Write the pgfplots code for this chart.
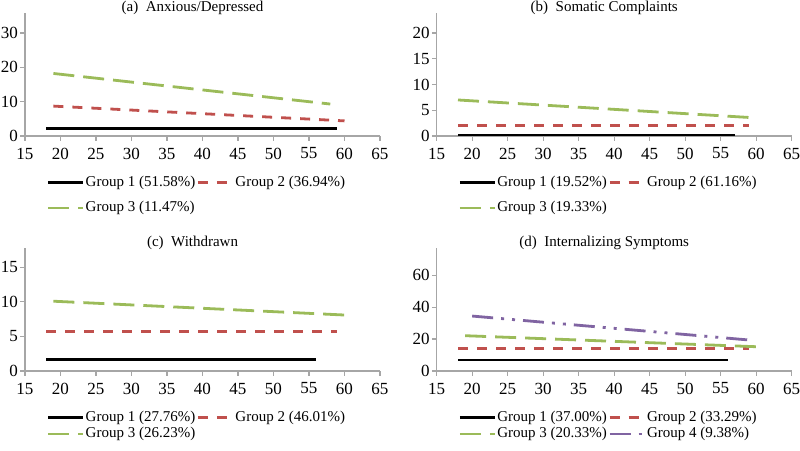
\documentclass[border=0pt]{standalone}
\usepackage{pgfplots}
\pgfplotsset{compat=1.18}
\usepackage{fontspec}
\setmainfont{Liberation Serif}
\definecolor{exred}{HTML}{C0504D}
\definecolor{exgreen}{HTML}{9BBB59}
\definecolor{expurple}{HTML}{8064A2}
\definecolor{axgray}{HTML}{A6A6A6}
\pgfplotsset{
 panel/.style={
  scale only axis, width=177.5pt, height=61.5pt,
  xmin=15, xmax=65, ymin=0,
  xtick={15,20,...,65},
  axis x line=bottom, axis y line=left,
  axis line style={axgray, line width=0.6pt, -},
  tick style={axgray, line width=0.6pt},
  major tick length=2.4pt, tick align=outside,
  tick label style={font=\fontsize{8.5}{9}\selectfont},
  yticklabel style={inner sep=1pt},
  /pgf/number format/assume math mode=true,
  title style={at={(0.472,1)}, anchor=base, yshift=-5.3pt, font=\fontsize{7.5}{8}\selectfont, inner sep=0pt},
  legend columns=2,
  legend cell align=left,
  legend style={draw=none, fill=none, inner sep=0pt, outer sep=0pt, at={(0,0)}, anchor=north west, xshift=10.85pt, yshift=-19.3pt, font=\fontsize{7.5}{8}\selectfont, column sep=0pt, nodes={inner sep=0.6pt}},
  legend image code/.code={\draw[#1] (0pt,0pt) -- (17.5pt,0pt);},
 },
 g1/.style={black, solid, line width=1.4pt},
 g2/.style={exred, line width=1.4pt, dash pattern=on 5pt off 4.5pt},
 g3/.style={exgreen, line width=1.4pt, dash pattern=on 10.5pt off 4.5pt},
 g4/.style={expurple, line width=1.4pt, dash pattern=on 10.5pt off 4pt on 1.5pt off 4pt on 1.5pt off 4pt},
}
\begin{document}
\begin{tikzpicture}
\useasboundingbox (0,0) rectangle (400pt,225.5pt);
% (a)
\begin{axis}[panel, at={(12.5pt,157.5pt)}, anchor=south west, ymax=35.8, ytick={0,10,20,30},
  title={(a)\ \ Anxious/Depressed}, legend style={row sep=4.8pt}]
\addplot[g1] coordinates {(18,2.2) (59,2.2)};
\addplot[g2] coordinates {(19,8.7) (60,4.4)};
\addplot[g3] coordinates {(19,18.2) (58,9.3)};
\legend{Group 1 (51.58\%),Group 2 (36.94\%),Group 3 (11.47\%)}
\end{axis}
% (b)
\begin{axis}[panel, at={(218.35pt,157.5pt)}, anchor=south west, ymax=23.9, ytick={0,5,...,20},
  title={(b)\ \ Somatic Complaints}, legend style={row sep=4.8pt}]
\addplot[g1] coordinates {(18,0.15) (57,0.15)};
\addplot[g2] coordinates {(18,2.0) (59,2.0)};
\addplot[g3] coordinates {(18,7.0) (59,3.6)};
\legend{Group 1 (19.52\%),Group 2 (61.16\%),Group 3 (19.33\%)}
\end{axis}
% (c)
\begin{axis}[panel, at={(12.5pt,40pt)}, anchor=south west, ymax=17.8, ytick={0,5,10,15},
  title={(c)\ \ Withdrawn}, legend style={row sep=0.3pt}]
\addplot[g1] coordinates {(18,1.7) (56,1.7)};
\addplot[g2] coordinates {(18,5.7) (59,5.7)};
\addplot[g3] coordinates {(19,10.1) (60,8.1)};
\legend{Group 1 (27.76\%),Group 2 (46.01\%),Group 3 (26.23\%)}
\end{axis}
% (d)
\begin{axis}[panel, at={(218.35pt,40pt)}, anchor=south west, ymax=77, ytick={0,20,40,60},
  title={(d)\ \ Internalizing Symptoms}, legend style={row sep=0.3pt}]
\addplot[g1] coordinates {(18,6.9) (56,6.9)};
\addplot[g2] coordinates {(18,13.9) (59,13.9)};
\addplot[g3] coordinates {(19,22.1) (60,15.2)};
\addplot[g4] coordinates {(20,34.4) (59,19.4)};
\legend{Group 1 (37.00\%),Group 2 (33.29\%),Group 3 (20.33\%),Group 4 (9.38\%)}
\end{axis}
\end{tikzpicture}
\end{document}
